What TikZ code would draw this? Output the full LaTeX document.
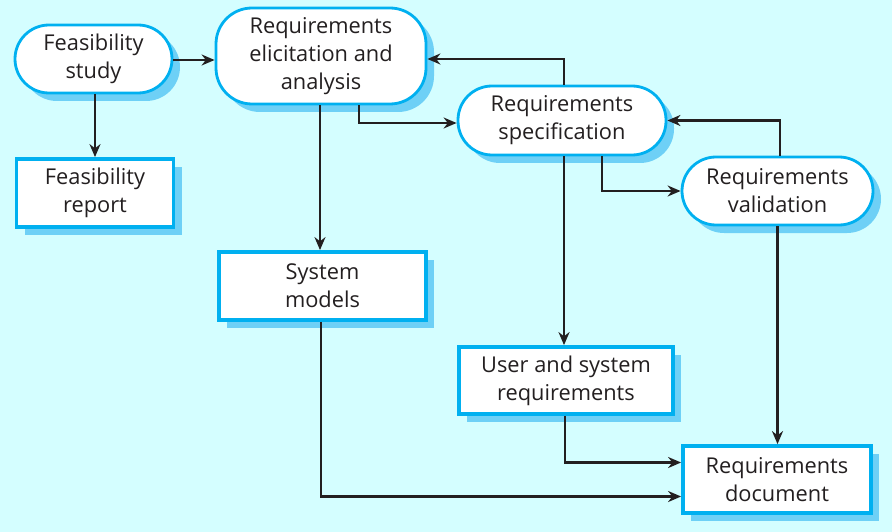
\documentclass[tikz,border=0pt]{standalone}
\usepackage{fontspec}
\setmainfont{Open Sans}
\usetikzlibrary{arrows.meta,shadows,calc}
\definecolor{bgc}{RGB}{212,254,255}
\definecolor{bordc}{RGB}{0,176,240}
\definecolor{shadc}{RGB}{110,208,246}
\definecolor{inkc}{RGB}{35,31,32}
\tikzset{
  base/.style={draw=bordc, fill=white, text=inkc, align=center,
    font=\fontsize{21.8}{28}\selectfont,
    drop shadow={shadow xshift=8pt, shadow yshift=-8pt, fill=shadc, opacity=1}},
  pill/.style={base, line width=2.8pt, rounded corners=34pt},
  docbox/.style={base, line width=3.8pt},
  arr/.style={draw=inkc, line width=2.5pt, -{Stealth[length=13pt,width=11pt]}}
}
\begin{document}
\begin{tikzpicture}[x=1pt,y=-1pt]
\fill[bgc] (0,0) rectangle (892,532);
\useasboundingbox (0,0) rectangle (892,532);
\node[pill, minimum width=157pt, minimum height=68pt] (fs) at (93.5,59) {Feasibility\\study};
\node[docbox, minimum width=157pt, minimum height=68pt] (fr) at (95,193) {Feasibility\\report};
\node[pill, rounded corners=36pt, minimum width=210pt, minimum height=96pt] (rea) at (321,56) {Requirements\\elicitation and\\analysis};
\node[pill, minimum width=208pt, minimum height=69pt] (rs) at (562,120.5) {Requirements\\specification};
\node[pill, minimum width=191pt, minimum height=68pt] (rv) at (777.5,191) {Requirements\\validation};
\node[docbox, minimum width=207pt, minimum height=68pt] (sm) at (322.5,286) {System\\models};
\node[docbox, minimum width=214pt, minimum height=67pt] (usr) at (566,380.5) {User and system\\requirements};
\node[docbox, minimum width=188pt, minimum height=67pt] (rd) at (777,479.5) {Requirements\\document};

\draw[arr] ([yshift=-1pt]fs.east) -- ([yshift=-1pt]fs.east -| rea.west);
\draw[arr] ([xshift=1.5pt]fs.south) -- ([xshift=1.5pt]fs.south |- fr.north);
\draw[arr] ([xshift=-1pt]rea.south) -- ([xshift=-1pt]rea.south |- sm.north);
\draw[arr] ([xshift=38pt]rea.south) |- ([yshift=-2.5pt]rs.west);
\draw[arr] ([xshift=2pt]rs.north) |- ([yshift=-3pt]rea.east);
\draw[arr] ([xshift=40pt]rs.south) |- (rv.west);
\draw[arr] ([xshift=2.5pt]rv.north) |- (rs.east);
\draw[arr] ([xshift=2pt]rs.south) -- ([xshift=2pt]rs.south |- usr.north);
\draw[arr] (rv.south) -- (rv.south |- rd.north);
\draw[arr] ([xshift=-1pt]usr.south) |- ([yshift=17pt]rd.west);
\draw[arr] ([xshift=-1.5pt]sm.south) |- ([yshift=-17pt]rd.west);
\end{tikzpicture}
\end{document}
